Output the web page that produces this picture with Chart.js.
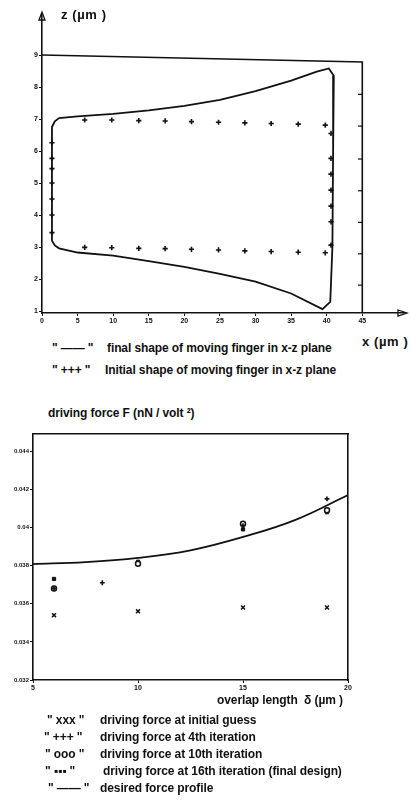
<!DOCTYPE html>
<html>
<head>
<meta charset="utf-8">
<script src="https://cdn.jsdelivr.net/npm/chart.js@4.4.1/dist/chart.umd.min.js"></script>
<style>
  body { margin: 0; background: #fff; width: 411px; height: 807px; position: relative; overflow: hidden;
         font-family: "Liberation Sans", Arial, sans-serif; color: #111; }
  canvas { position: absolute; left: 0; }
  .txt { position: absolute; white-space: nowrap; font-size: 12px; line-height: 14px; font-weight: bold; letter-spacing: -0.1px; }
  .lbl { font-size: 13px; letter-spacing: 0.6px; }
</style>
</head>
<body>
<canvas id="shapeChart" width="411" height="330" style="top:0"></canvas>
<canvas id="forceChart" width="411" height="280" style="top:420px"></canvas>

<div class="txt lbl" style="left:61px;top:8px">z (µm )</div>
<div class="txt lbl" style="left:362px;top:335px">x (µm )</div>
<div class="txt" style="left:52px;top:341px">" —— "</div>
<div class="txt" style="left:107px;top:341px">final shape of moving finger in x-z plane</div>
<div class="txt" style="left:52px;top:363px">" +++ "</div>
<div class="txt" style="left:105px;top:363px">Initial shape of moving finger in x-z plane</div>

<div class="txt" style="left:48px;top:406px">driving force F (nN / volt ²)</div>
<div class="txt" style="left:217px;top:693px">overlap length&nbsp; δ (µm )</div>
<div class="txt" style="left:47px;top:713px">" xxx "</div>
<div class="txt" style="left:100px;top:713px">driving force at initial guess</div>
<div class="txt" style="left:44px;top:730px">" +++ "</div>
<div class="txt" style="left:100px;top:730px">driving force at 4th iteration</div>
<div class="txt" style="left:45px;top:747px">" ooo "</div>
<div class="txt" style="left:100px;top:747px">driving force at 10th iteration</div>
<div class="txt" style="left:45px;top:764px">" ▪▪▪ "</div>
<div class="txt" style="left:103px;top:764px">driving force at 16th iteration (final design)</div>
<div class="txt" style="left:48px;top:781px">" —— "</div>
<div class="txt" style="left:100px;top:781px">desired force profile</div>

<script>
// ---- top figure: moving finger in x-z plane (µm) ----
const shapeXTicks = [0, 5, 10, 15, 20, 25, 30, 35, 40, 45];
const shapeZTicks = [1, 2, 3, 4, 5, 6, 7, 8, 9];

// fixed electrode outline
const electrodeX = [0, 45, 45];
const electrodeZ = [9.0, 8.78, 0.94];
const electrodeTickX = [44.7, 44.7, 44.7, 44.7, 44.7, 44.7, 44.7];
const electrodeTickZ = [7.77, 6.78, 5.75, 4.76, 3.77, 2.79, 1.81];

// final shape (closed outline)
const finalX = [1.4, 1.4, 1.8, 2.4, 5, 10, 15, 20, 25, 30, 35, 38.6, 40.3, 41.0, 40.9, 40.8, 40.5, 39.4,
                35, 30, 25, 20, 15, 10, 5, 2.4, 1.8, 1.4];
const finalZ = [3.2, 6.75, 6.93, 7.03, 7.08, 7.16, 7.27, 7.41, 7.60, 7.87, 8.20, 8.48, 8.58, 8.35, 6.0, 3.0, 1.29, 1.06,
                1.55, 1.92, 2.16, 2.38, 2.56, 2.73, 2.83, 2.96, 3.05, 3.2];

// initial shape (+ markers)
const initTopX = [6.0, 9.8, 13.6, 17.3, 21.0, 24.8, 28.5, 32.2, 36.0, 39.8];
const initTopZ = [6.97, 6.97, 6.95, 6.94, 6.92, 6.90, 6.88, 6.86, 6.84, 6.81];
const initBotX = [6.0, 9.8, 13.6, 17.3, 21.0, 24.8, 28.5, 32.2, 36.0, 39.8];
const initBotZ = [2.99, 2.98, 2.96, 2.95, 2.93, 2.91, 2.88, 2.86, 2.84, 2.82];
const initLeftX = [1.4, 1.4, 1.4, 1.4, 1.4, 1.4, 1.4];
const initLeftZ = [3.45, 4.0, 4.5, 5.0, 5.45, 5.77, 6.26];
const initRightX = [40.6, 40.6, 40.6, 40.6, 40.6, 40.6, 40.6];
const initRightZ = [3.06, 3.79, 4.28, 4.78, 5.28, 5.77, 6.55];

// ---- bottom figure: driving force vs overlap length ----
const forceXTicks = [5, 10, 15, 20];
const forceYTicks = [0.032, 0.034, 0.036, 0.038, 0.040, 0.042, 0.044];
const forceYLabels = ['0.032', '0.034', '0.036', '0.038', '0.04', '0.042', '0.044'];

const guessX = [6, 10, 15, 19];
const guessF = [0.0354, 0.0356, 0.0358, 0.0358];
const iter4X = [6, 8.3, 15, 19];
const iter4F = [0.0368, 0.0371, 0.0401, 0.0415];
const iter10X = [6, 10, 15, 19];
const iter10F = [0.0368, 0.0381, 0.0402, 0.0409];
const iter16X = [6, 10, 15, 19];
const iter16F = [0.0373, 0.0382, 0.0399, 0.0408];
const desiredX = [5, 7.5, 10, 12.5, 15, 17.5, 20];
const desiredF = [0.03808, 0.03818, 0.0384, 0.0388, 0.0395, 0.0404, 0.0417];

const ink = '#111';
const tickFont = { family: 'Liberation Sans', size: 7, weight: 'bold' };

function pts(xs, ys) {
    return xs.map((x, i) => ({ x: x, y: ys[i] }));
}

function fixTicks(vals) {
    return function (scale) {
        scale.ticks = vals.map(v => ({ value: v }));
    };
}

// open arrow heads at the ends of the top figure axes
const arrowPlugin = {
    id: 'axisArrows',
    afterDraw(chart) {
        const ctx = chart.ctx;
        const a = chart.chartArea;
        ctx.save();
        ctx.strokeStyle = ink;
        ctx.lineWidth = 1.3;
        ctx.beginPath();
        ctx.moveTo(a.left - 3, a.top + 5);
        ctx.lineTo(a.left, a.top - 3);
        ctx.lineTo(a.left + 3, a.top + 5);
        ctx.closePath();
        ctx.stroke();
        ctx.beginPath();
        ctx.moveTo(a.right - 7, a.bottom - 3);
        ctx.lineTo(a.right + 2, a.bottom);
        ctx.lineTo(a.right - 7, a.bottom + 3);
        ctx.closePath();
        ctx.stroke();
        ctx.restore();
    }
};

// top chart
new Chart(document.getElementById('shapeChart'), {
    type: 'scatter',
    data: {
        datasets: [
            { label: 'electrode', data: pts(electrodeX, electrodeZ), showLine: true,
              borderColor: ink, borderWidth: 1.6, pointRadius: 0 },
            { label: 'electrode ticks', data: pts(electrodeTickX, electrodeTickZ), pointStyle: 'line',
              pointRadius: 2.2, borderColor: ink, borderWidth: 1.2 },
            { label: 'final shape', data: pts(finalX, finalZ), showLine: true, tension: 0,
              borderColor: ink, borderWidth: 1.8, pointRadius: 0 },
            { label: 'initial shape', pointStyle: 'cross', pointRadius: 2.6, borderColor: ink, borderWidth: 1.6,
              data: pts(initTopX, initTopZ).concat(pts(initBotX, initBotZ), pts(initLeftX, initLeftZ), pts(initRightX, initRightZ)) }
        ]
    },
    options: {
        responsive: false,
        animation: false,
        layout: { padding: { left: 0, top: 15, right: 6, bottom: 0 } },
        plugins: { legend: { display: false }, tooltip: { enabled: false } },
        scales: {
            x: {
                type: 'linear', min: 0, max: 51,
                afterBuildTicks: fixTicks(shapeXTicks),
                afterFit: s => { s.height = 17; },
                grid: { drawOnChartArea: false, tickLength: 3, color: ink },
                border: { color: ink, width: 1.6 },
                ticks: { font: tickFont, color: ink, padding: 1, maxRotation: 0 }
            },
            y: {
                type: 'linear', min: 0.94, max: 10.25,
                afterBuildTicks: fixTicks(shapeZTicks),
                afterFit: s => { s.width = 42; },
                grid: { drawOnChartArea: false, tickLength: 3, color: ink },
                border: { color: ink, width: 1.6 },
                ticks: { font: tickFont, color: ink, padding: 1 }
            }
        }
    },
    plugins: [arrowPlugin]
});

// bottom chart
new Chart(document.getElementById('forceChart'), {
    type: 'scatter',
    data: {
        datasets: [
            { label: 'desired force profile', data: pts(desiredX, desiredF), showLine: true,
              tension: 0.4, borderColor: ink, borderWidth: 1.8, pointRadius: 0 },
            { label: 'initial guess', data: pts(guessX, guessF), pointStyle: 'crossRot',
              pointRadius: 2.8, borderColor: ink, borderWidth: 1.5 },
            { label: '4th iteration', data: pts(iter4X, iter4F), pointStyle: 'cross',
              pointRadius: 2.4, borderColor: ink, borderWidth: 1.6 },
            { label: '10th iteration', data: pts(iter10X, iter10F), pointStyle: 'circle',
              pointRadius: 2.5, borderColor: ink, backgroundColor: '#fff', borderWidth: 1.5 },
            { label: '16th iteration', data: pts(iter16X, iter16F), pointStyle: 'rect',
              pointRadius: 2.3, borderColor: ink, backgroundColor: ink, borderWidth: 1 }
        ]
    },
    options: {
        responsive: false,
        animation: false,
        layout: { padding: { left: 0, top: 14, right: 63, bottom: 0 } },
        plugins: { legend: { display: false }, tooltip: { enabled: false } },
        scales: {
            x: {
                type: 'linear', min: 5, max: 20,
                afterBuildTicks: fixTicks(forceXTicks),
                afterFit: s => { s.height = 20; },
                grid: { drawOnChartArea: false, tickLength: 3, color: ink },
                border: { color: ink, width: 1.6 },
                ticks: { font: tickFont, color: ink, padding: 1, maxRotation: 0 }
            },
            y: {
                type: 'linear', min: 0.032, max: 0.0449,
                afterBuildTicks: fixTicks(forceYTicks),
                afterFit: s => { s.width = 33; },
                grid: { drawOnChartArea: false, tickLength: 3, color: ink },
                border: { color: ink, width: 1.6 },
                ticks: { font: { family: 'Liberation Sans', size: 6, weight: 'bold' }, color: ink, padding: 1,
                         callback: (v, i) => forceYLabels[i] }
            },
            xTop: {
                type: 'linear', position: 'top', min: 5, max: 20,
                afterFit: s => { s.height = 0; },
                grid: { drawOnChartArea: false, drawTicks: false },
                border: { color: ink, width: 1.6 },
                ticks: { display: false }
            },
            yRight: {
                type: 'linear', position: 'right', min: 0.032, max: 0.0449,
                afterFit: s => { s.width = 0; },
                grid: { drawOnChartArea: false, drawTicks: false },
                border: { color: ink, width: 1.6 },
                ticks: { display: false }
            }
        }
    }
});
</script>
</body>
</html>
